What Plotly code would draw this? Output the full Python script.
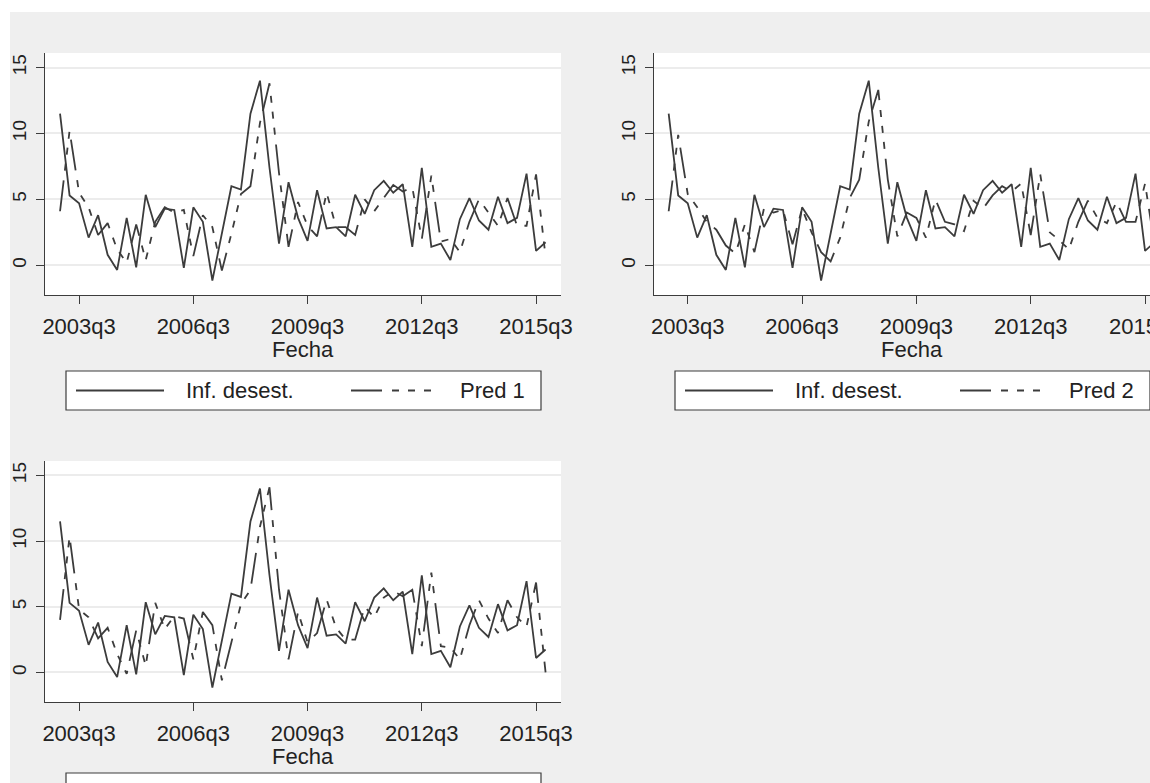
import plotly.graph_objects as go

# Quarterly index: 0 = 2003q1 ... 51 = 2015q4
quarters = list(range(52))

inflacion = [11.5, 5.3, 4.7, 2.1, 3.8, 0.8, -0.35, 3.6, -0.15, 5.35,
             2.9, 4.3, 4.2, -0.2, 4.4, 3.3, -1.15, 2.4, 6.0, 5.75,
             11.5, 14.0, 7.4, 1.65, 6.3, 3.6, 1.85, 5.7, 2.8, 2.9,
             2.2, 5.35, 3.9, 5.7, 6.4, 5.5, 6.15, 1.4, 7.4, 1.4,
             1.65, 0.4, 3.5, 5.1, 3.4, 2.7, 5.2, 3.2, 3.6, 6.95,
             1.1, 1.75]

pred1 = [4.1, 10.2, 5.5, 4.4, 2.3, 3.2, 1.2, 0.2, 3.1, 0.4,
         3.3, 4.4, 4.0, 4.2, 0.7, 3.8, 2.9, -0.4, 2.4, 5.4,
         6.0, 10.8, 13.8, 7.0, 1.4, 4.8, 3.0, 2.2, 5.5, 2.9,
         2.9, 2.3, 5.0, 4.1, 5.1, 6.1, 5.6, 5.9, 2.0, 6.8,
         1.8, 2.0, 1.0, 3.3, 5.0, 4.0, 3.0, 5.1, 3.0, 3.0,
         6.9, 0.65]

pred2 = [4.1, 9.9, 5.4, 4.4, 3.3, 2.7, 1.5, 0.9, 3.1, 1.0,
         4.3, 4.0, 4.2, 1.6, 4.3, 2.5, 1.0, 0.3, 2.1, 5.1,
         6.5, 10.9, 13.3, 6.5, 2.2, 4.0, 3.6, 2.1, 5.0, 3.3,
         3.1, 2.6, 4.9, 4.3, 5.3, 6.0, 5.6, 6.2, 2.3, 6.9,
         2.5, 1.9, 1.2, 3.3, 4.9, 3.6, 3.2, 4.8, 3.3, 3.3,
         6.2, 1.5]

pred3 = [4.0, 10.35, 4.8, 4.2, 2.6, 3.4, 1.4, -0.1, 3.2, 0.5,
         5.3, 3.3, 4.3, 4.1, 1.0, 4.6, 3.6, -0.6, 2.3, 5.2,
         6.3, 11.1, 14.1, 6.3, 1.0, 4.6, 2.3, 3.0, 5.55, 3.4,
         2.5, 2.5, 5.0, 4.2, 5.7, 6.2, 5.8, 6.3, 2.0, 7.6,
         2.0, 1.9, 1.0, 3.6, 5.5, 4.1, 3.0, 5.5, 4.2, 3.5,
         6.85, 0.0]

tick_vals = [2, 14, 26, 38, 50]
tick_text = ["2003q3", "2006q3", "2009q3", "2012q3", "2015q3"]
y_ticks = [0, 5, 10, 15]

pred_names = ["Pred 1", "Pred 2", "Pred 3"]
preds = [pred1, pred2, pred3]

W, H = 1150, 783
FONT = "Liberation Sans, Arial, Helvetica, sans-serif"
INK = "#3c3c3c"
TXT = "#222222"
BG = "#efefef"
GRID = "#ececec"
DASH = "31px,10px,7px,9px,7px,9px,7px,10px"
XFONT = 22
YFONT = 19


def px(x):
    return x / W


def py(y):
    return 1 - y / H


# panel boxes in pixels: (left, right, top, bottom, x-range, legend offset)
panels = [
    (45, 561, 53, 295, [-1.58, 52.62], 76),
    (654, 1150, 53, 295, [-1.54, 50.52], 76),
    (45, 561, 461, 702, [-1.58, 52.62], 71),
]
# horizontal centre of each panel's full-width axis (for the axis title)
title_centres = [303, 912, 303]

fig = go.Figure()
layout = dict(
    width=W, height=H,
    margin=dict(l=0, r=0, t=0, b=0),
    paper_bgcolor="white",
    plot_bgcolor="white",
    showlegend=False,
    font=dict(family=FONT, color=TXT, size=XFONT),
)

shapes = [
    dict(type="rect", xref="paper", yref="paper", x0=px(10), x1=1.02,
         y0=-0.02, y1=py(12), fillcolor=BG, line=dict(width=0), layer="below"),
]
annotations = []

for i, (l, r, t, b, xr, loff) in enumerate(panels):
    n = "" if i == 0 else str(i + 1)
    xa, ya = "x" + n, "y" + n
    fig.add_trace(go.Scatter(x=quarters, y=inflacion, mode="lines",
                             line=dict(color=INK, width=1.8),
                             name="Inf. desest.", xaxis=xa, yaxis=ya))
    fig.add_trace(go.Scatter(x=quarters, y=preds[i], mode="lines",
                             line=dict(color=INK, width=1.8, dash=DASH),
                             name=pred_names[i], xaxis=xa, yaxis=ya))
    # white plot region
    shapes.append(dict(type="rect", xref="paper", yref="paper",
                       x0=px(l), x1=px(r) if r < W else 1.02,
                       y0=py(b), y1=py(t), fillcolor="white",
                       line=dict(width=0), layer="below"))
    layout["xaxis" + n] = dict(
        domain=[px(l), min(px(r), 1.0)], range=xr, anchor=ya,
        tickvals=tick_vals, ticktext=tick_text, ticks="outside", ticklen=8,
        tickcolor=INK, tickwidth=1.2, showline=True, linecolor=INK,
        linewidth=1.2, showgrid=False, zeroline=False,
        tickfont=dict(size=XFONT), automargin=False, ticklabelstandoff=3,
    )
    layout["yaxis" + n] = dict(
        domain=[py(b), py(t)], range=[-2.25, 16.1], anchor=xa,
        tickvals=y_ticks, ticks="outside", ticklen=8, tickcolor=INK,
        tickwidth=1.2, showline=True, linecolor=INK, linewidth=1.2,
        showgrid=True, gridcolor=GRID, gridwidth=1.5, zeroline=False,
        tickangle=-90, tickfont=dict(size=YFONT), automargin=False,
        ticklabelstandoff=2,
    )

    # axis title
    annotations.append(dict(xref="paper", yref="paper",
                            x=px(title_centres[i]), y=py(b + 54),
                            text="Fecha", showarrow=False,
                            xanchor="center", yanchor="middle",
                            font=dict(size=XFONT)))

    # legend box drawn under each panel
    lx0, lx1 = l + 21, l + 496
    ly0, ly1 = b + loff, b + loff + 39
    shapes.append(dict(type="rect", xref="paper", yref="paper",
                       x0=px(lx0), x1=px(lx1), y0=py(ly1), y1=py(ly0),
                       fillcolor="white", line=dict(color=INK, width=1.2)))
    if ly0 + 20 < H - 15:
        ym = py((ly0 + ly1) / 2)
        shapes.append(dict(type="line", xref="paper", yref="paper",
                           x0=px(lx0 + 10), x1=px(lx0 + 98), y0=ym, y1=ym,
                           line=dict(color=INK, width=1.8)))
        shapes.append(dict(type="line", xref="paper", yref="paper",
                           x0=px(lx0 + 285), x1=px(lx0 + 375), y0=ym, y1=ym,
                           line=dict(color=INK, width=1.8, dash=DASH)))
        annotations.append(dict(xref="paper", yref="paper", x=px(lx0 + 118),
                                y=ym, text="Inf. desest.", showarrow=False,
                                xanchor="left", yanchor="middle",
                                font=dict(size=XFONT)))
        annotations.append(dict(xref="paper", yref="paper", x=px(lx0 + 392),
                                y=ym, text=pred_names[i], showarrow=False,
                                xanchor="left", yanchor="middle",
                                font=dict(size=XFONT)))

# last tick label of the right-hand panel runs past the page edge
annotations.append(dict(xref="x2", yref="paper", x=tick_vals[-1],
                        y=py(326), text=tick_text[-1], showarrow=False,
                        xanchor="center", yanchor="middle",
                        font=dict(size=XFONT)))

layout["shapes"] = shapes
layout["annotations"] = annotations
fig.update_layout(**layout)
fig.write_html("out.html")
